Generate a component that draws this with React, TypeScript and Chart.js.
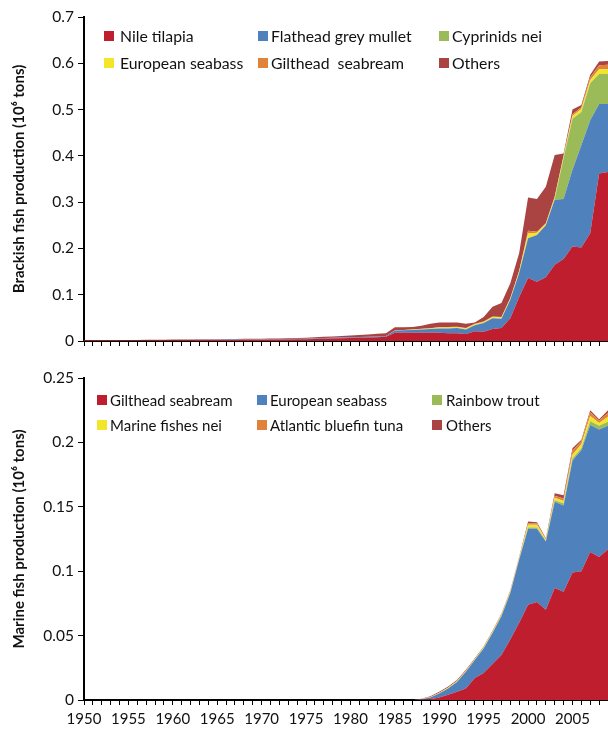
import React, { useEffect, useRef } from 'react';
import { Chart, registerables } from 'chart.js';

Chart.register(...registerables);

const years = [
  1950, 1951, 1952, 1953, 1954, 1955, 1956, 1957, 1958, 1959,
  1960, 1961, 1962, 1963, 1964, 1965, 1966, 1967, 1968, 1969,
  1970, 1971, 1972, 1973, 1974, 1975, 1976, 1977, 1978, 1979,
  1980, 1981, 1982, 1983, 1984, 1985, 1986, 1987, 1988, 1989,
  1990, 1991, 1992, 1993, 1994, 1995, 1996, 1997, 1998, 1999,
  2000, 2001, 2002, 2003, 2004, 2005, 2006, 2007, 2008, 2009,
];

// Brackish (10^6 tons)
const brackishNileTilapia = [
  0.001, 0.001, 0.001, 0.001, 0.001, 0.0012, 0.0012, 0.0013, 0.0014, 0.0015,
  0.0016, 0.0017, 0.0018, 0.002, 0.002, 0.0022, 0.0023, 0.0024, 0.0025, 0.0026,
  0.0028, 0.003, 0.0032, 0.0034, 0.0036, 0.004, 0.0045, 0.005, 0.0055, 0.006,
  0.0065, 0.007, 0.0075, 0.008, 0.009, 0.018, 0.018, 0.018, 0.018, 0.018,
  0.018, 0.017, 0.017, 0.015, 0.021, 0.02, 0.026, 0.028, 0.049, 0.095,
  0.136, 0.128, 0.138, 0.165, 0.177, 0.204, 0.202, 0.233, 0.362, 0.365,
];
const brackishFlatheadMullet = [
  0.0003, 0.0003, 0.0003, 0.0003, 0.0004, 0.0004, 0.0004, 0.0004, 0.0005, 0.0005,
  0.0005, 0.0005, 0.0006, 0.0006, 0.0006, 0.0007, 0.0007, 0.0007, 0.0008, 0.0008,
  0.0008, 0.0009, 0.0009, 0.001, 0.001, 0.0011, 0.0012, 0.0013, 0.0014, 0.0015,
  0.0016, 0.0017, 0.0018, 0.0019, 0.002, 0.004, 0.005, 0.006, 0.007, 0.008,
  0.009, 0.01, 0.011, 0.01, 0.013, 0.019, 0.023, 0.02, 0.04, 0.052,
  0.086, 0.101, 0.112, 0.14, 0.13, 0.166, 0.221, 0.244, 0.15, 0.147,
];
const brackishCyprinids = [
  0, 0, 0, 0, 0, 0, 0, 0, 0, 0,
  0, 0, 0, 0, 0, 0, 0, 0, 0, 0,
  0, 0, 0, 0, 0, 0, 0, 0, 0, 0,
  0, 0, 0, 0, 0, 0, 0, 0, 0, 0,
  0, 0, 0, 0, 0, 0, 0, 0, 0, 0,
  0, 0, 0, 0.002, 0.088, 0.11, 0.072, 0.08, 0.065, 0.065,
];
const brackishSeabass = [
  0, 0, 0, 0, 0, 0, 0, 0, 0, 0,
  0, 0, 0, 0, 0, 0, 0, 0, 0, 0,
  0, 0, 0, 0, 0, 0, 0, 0, 0, 0,
  0, 0, 0, 0, 0, 0.0008, 0.0008, 0.001, 0.001, 0.001,
  0.002, 0.002, 0.002, 0.002, 0.002, 0.002, 0.003, 0.003, 0.003, 0.004,
  0.01, 0.005, 0.003, 0.003, 0.004, 0.006, 0.006, 0.007, 0.01, 0.01,
];
const brackishSeabream = [
  0, 0, 0, 0, 0, 0, 0, 0, 0, 0,
  0, 0, 0, 0, 0, 0, 0, 0, 0, 0,
  0, 0, 0, 0, 0, 0, 0, 0, 0, 0,
  0, 0, 0, 0, 0, 0, 0, 0, 0.0005, 0.0005,
  0.001, 0.001, 0.001, 0.001, 0.001, 0.001, 0.001, 0.001, 0.001, 0.001,
  0.006, 0.002, 0.002, 0.002, 0.002, 0.004, 0.004, 0.006, 0.009, 0.01,
];
const brackishOthers = [
  0.0006, 0.0006, 0.0006, 0.0007, 0.0007, 0.0007, 0.0008, 0.0008, 0.0008, 0.0009,
  0.0009, 0.001, 0.001, 0.001, 0.0011, 0.0011, 0.0012, 0.0012, 0.0013, 0.0013,
  0.0014, 0.0014, 0.0015, 0.0016, 0.0017, 0.0019, 0.0023, 0.0027, 0.003, 0.0035,
  0.004, 0.0045, 0.005, 0.0055, 0.006, 0.007, 0.006, 0.005, 0.0065, 0.0095,
  0.01, 0.01, 0.009, 0.009, 0.003, 0.01, 0.021, 0.03, 0.032, 0.038,
  0.072, 0.071, 0.078, 0.09, 0.004, 0.01, 0.005, 0.005, 0.008, 0.008,
];

// Marine (10^6 tons)
const marineGiltheadSeabream = [
  0, 0, 0, 0, 0, 0, 0, 0, 0, 0,
  0, 0, 0, 0, 0, 0, 0, 0, 0, 0,
  0, 0, 0, 0, 0, 0, 0, 0, 0, 0,
  0, 0, 0, 0, 0, 0, 0, 0, 0.0002, 0.0005,
  0.002, 0.004, 0.0065, 0.009, 0.017, 0.021, 0.028, 0.035, 0.047, 0.06,
  0.074, 0.076, 0.07, 0.087, 0.084, 0.099, 0.1, 0.115, 0.111, 0.117,
];
const marineEuropeanSeabass = [
  0, 0, 0, 0, 0, 0, 0, 0, 0, 0,
  0, 0, 0, 0, 0, 0, 0, 0, 0, 0,
  0, 0, 0, 0, 0, 0, 0, 0, 0, 0,
  0, 0, 0, 0, 0, 0, 0, 0, 0.0003, 0.0015,
  0.003, 0.005, 0.0075, 0.013, 0.014, 0.019, 0.024, 0.03, 0.036, 0.049,
  0.059, 0.057, 0.053, 0.067, 0.067, 0.087, 0.094, 0.0985, 0.099, 0.096,
];
const marineRainbowTrout = [
  0, 0, 0, 0, 0, 0, 0, 0, 0, 0,
  0, 0, 0, 0, 0, 0, 0, 0, 0, 0,
  0, 0, 0, 0, 0, 0, 0, 0, 0, 0,
  0, 0, 0, 0, 0, 0, 0, 0, 0, 0,
  0.0002, 0.0002, 0.0002, 0.0002, 0.0002, 0.0002, 0.0002, 0.0002, 0.0002, 0.0002,
  0.001, 0.001, 0.0005, 0.001, 0.0015, 0.0015, 0.0015, 0.003, 0.003, 0.003,
];
const marineFishesNei = [
  0, 0, 0, 0, 0, 0, 0, 0, 0, 0,
  0, 0, 0, 0, 0, 0, 0, 0, 0, 0,
  0, 0, 0, 0, 0, 0, 0, 0, 0, 0,
  0, 0, 0, 0, 0, 0, 0, 0, 0.0002, 0.0003,
  0.0005, 0.0005, 0.0006, 0.0006, 0.0007, 0.0007, 0.0008, 0.0008, 0.001, 0.001,
  0.002, 0.002, 0.001, 0.002, 0.002, 0.003, 0.003, 0.004, 0.002, 0.004,
];
const marineBluefinTuna = [
  0, 0, 0, 0, 0, 0, 0, 0, 0, 0,
  0, 0, 0, 0, 0, 0, 0, 0, 0, 0,
  0, 0, 0, 0, 0, 0, 0, 0, 0, 0,
  0, 0, 0, 0, 0, 0, 0, 0, 0, 0,
  0, 0, 0, 0, 0, 0, 0.0002, 0.0003, 0.0004, 0.0005,
  0.001, 0.001, 0.0005, 0.0015, 0.002, 0.003, 0.0025, 0.003, 0.002, 0.003,
];
const marineOthers = [
  0, 0, 0, 0, 0, 0, 0, 0, 0, 0,
  0, 0, 0, 0, 0, 0, 0, 0, 0, 0,
  0, 0, 0, 0, 0, 0, 0, 0, 0, 0,
  0, 0, 0, 0, 0, 0, 0, 0, 0.0003, 0.0006,
  0.0008, 0.0008, 0.0007, 0.0006, 0.0006, 0.0006, 0.0006, 0.0006, 0.0006, 0.0006,
  0.0015, 0.001, 0.0005, 0.002, 0.0025, 0.002, 0.001, 0.0015, 0.001, 0.002,
];

const brackishNames = ['Nile tilapia', 'Flathead grey mullet', 'Cyprinids nei', 'European seabass', 'Gilthead  seabream', 'Others'];
const marineNames = ['Gilthead seabream', 'European seabass', 'Rainbow trout', 'Marine fishes nei', 'Atlantic bluefin tuna', 'Others'];

const brackishTicks = [0, 0.1, 0.2, 0.3, 0.4, 0.5, 0.6, 0.7];
const marineTicks = [0, 0.05, 0.1, 0.15, 0.2, 0.25];

const COLORS = ['#BE1E2D', '#4F81BD', '#9BBB59', '#F2E52A', '#E0823A', '#A94442'];
const FONT = 'Lato, "Open Sans", sans-serif';

function makeConfig(
  series: number[][],
  names: string[],
  yMax: number,
  yStep: number,
  yTitle: string,
  showXLabels: boolean,
  xHeight: number,
  topPad: number
): any {
  return {
    type: 'line',
    data: {
      labels: years.map(String),
      datasets: series.map((s, i) => ({
        label: names[i],
        data: s,
        fill: i === 0 ? 'origin' : '-1',
        backgroundColor: COLORS[i],
        borderColor: COLORS[i],
        borderWidth: 0,
        pointRadius: 0,
        tension: 0,
      })),
    },
    options: {
      responsive: false,
      animation: false,
      events: [],
      layout: { padding: { top: topPad, left: 0, right: 0, bottom: 0 } },
      plugins: { legend: { display: false }, tooltip: { enabled: false } },
      scales: {
        x: {
          type: 'category',
          offset: false,
          grid: {
            display: true,
            drawOnChartArea: false,
            drawTicks: true,
            tickLength: 5,
            tickColor: '#000',
            tickWidth: 1,
            color: '#000',
            offset: false,
          },
          border: { display: true, color: '#000', width: 2 },
          ticks: {
            autoSkip: false,
            maxRotation: 0,
            minRotation: 0,
            padding: 5,
            color: '#111',
            font: { family: FONT, size: 15 },
            callback: (_v: any, idx: number) =>
              showXLabels && years[idx] % 5 === 0 ? String(years[idx]) : '',
          },
          afterFit: (s: any) => {
            s.height = xHeight;
            s.paddingRight = 0;
            s.paddingLeft = 0;
          },
        },
        y: {
          stacked: true,
          min: 0,
          max: yMax,
          grid: {
            display: true,
            drawOnChartArea: false,
            drawTicks: true,
            tickLength: 6,
            tickColor: '#000',
            tickWidth: 1,
            color: '#000',
          },
          border: { display: true, color: '#000', width: 2 },
          ticks: {
            stepSize: yStep,
            padding: 4,
            color: '#111',
            font: { family: FONT, size: 15.5 },
            callback: (v: any) => String(Number(Number(v).toFixed(3))),
          },
          title: {
            display: true,
            text: yTitle,
            color: '#111',
            font: { family: FONT, size: 15, weight: 'bold' },
            padding: { top: 10, bottom: 0 },
          },
          afterFit: (s: any) => {
            s.width = 84;
          },
        },
      },
    },
  };
}

function Legend({ names, cols, rows, size }: { names: string[]; cols: { sw: number; tx: number }[]; rows: number[]; size: number }) {
  return (
    <>
      {names.map((n, i) => {
        const c = cols[i % 3];
        const r = rows[Math.floor(i / 3)];
        return (
          <React.Fragment key={n}>
            <div
              style={{
                position: 'absolute',
                left: c.sw,
                top: r - 5,
                width: 10,
                height: 10,
                background: COLORS[i],
              }}
            />
            <div
              style={{
                position: 'absolute',
                left: c.tx,
                top: r - 10,
                height: 20,
                lineHeight: '20px',
                fontFamily: FONT,
                fontSize: size,
                color: '#111',
                whiteSpace: 'pre',
              }}
            >
              {n}
            </div>
          </React.Fragment>
        );
      })}
    </>
  );
}

export default function App() {
  const topRef = useRef<HTMLCanvasElement>(null);
  const botRef = useRef<HTMLCanvasElement>(null);

  useEffect(() => {
    const c1 = new Chart(
      topRef.current as HTMLCanvasElement,
      makeConfig(
        [brackishNileTilapia, brackishFlatheadMullet, brackishCyprinids, brackishSeabass, brackishSeabream, brackishOthers],
        brackishNames,
        brackishTicks[brackishTicks.length - 1],
        brackishTicks[1],
        'Brackish fish production (10\u2076 tons)',
        false,
        15,
        17
      )
    );
    const c2 = new Chart(
      botRef.current as HTMLCanvasElement,
      makeConfig(
        [marineGiltheadSeabream, marineEuropeanSeabass, marineRainbowTrout, marineFishesNei, marineBluefinTuna, marineOthers],
        marineNames,
        marineTicks[marineTicks.length - 1],
        marineTicks[1],
        'Marine fish production (10\u2076 tons)',
        true,
        31,
        22
      )
    );
    return () => {
      c1.destroy();
      c2.destroy();
    };
  }, []);

  return (
    <div style={{ position: 'absolute', left: 0, top: 0, width: 608, height: 731, background: '#fff' }}>
      <canvas ref={topRef} width={608} height={356} style={{ position: 'absolute', left: 0, top: 0, width: 608, height: 356 }} />
      <canvas ref={botRef} width={608} height={375} style={{ position: 'absolute', left: 0, top: 356, width: 608, height: 375 }} />
      <Legend
        names={brackishNames}
        cols={[{ sw: 104, tx: 120 }, { sw: 258, tx: 271 }, { sw: 439, tx: 452 }]}
        rows={[36, 63]}
        size={15.8}
      />
      <Legend
        names={marineNames}
        cols={[{ sw: 97, tx: 110 }, { sw: 257, tx: 270 }, { sw: 432, tx: 446 }]}
        rows={[400, 425]}
        size={15}
      />
    </div>
  );
}
